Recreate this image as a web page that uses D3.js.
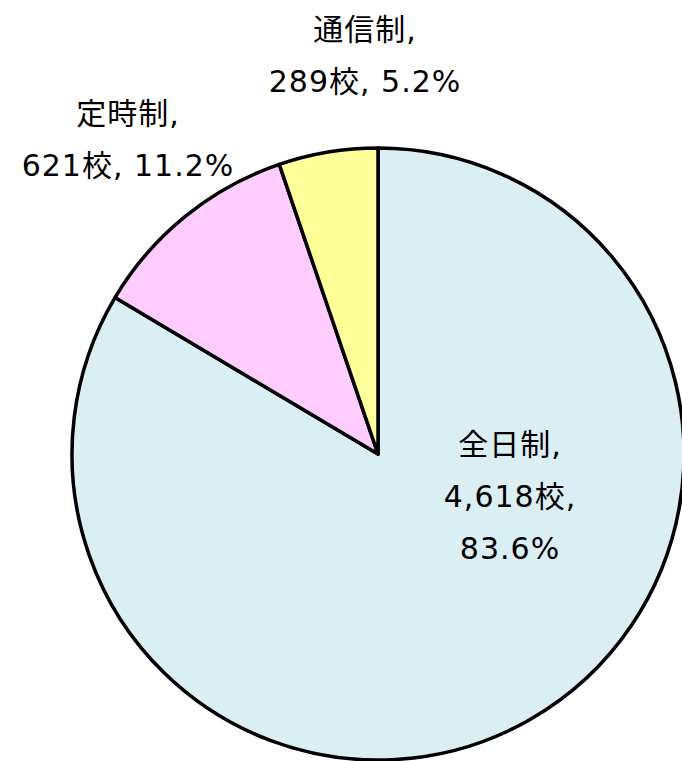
<!DOCTYPE html>
<html>
<head>
<meta charset="utf-8">
<script src="https://cdn.jsdelivr.net/npm/d3@7"></script>
<style>
  html, body { margin: 0; padding: 0; background: #fff; }
  svg text { font-family: "DejaVu Sans", "Noto Sans CJK JP", sans-serif; font-size: 30px; letter-spacing: 1px; fill: #000; }
</style>
</head>
<body>
<svg id="chart"></svg>
<script>
// data
const categories = ["全日制", "定時制", "通信制"];
const schools = [4618, 621, 289];
const percents = ["83.6%", "11.2%", "5.2%"];
const colors = ["#DAEEF3", "#FFCCFF", "#FFFF99"];

const width = 682, height = 761;
const cx = 378, cy = 454, radius = 306;

const svg = d3.select("#chart")
    .attr("width", width)
    .attr("height", height);

const pie = d3.pie().sort(null).value(d => d)
const arcs = pie(schools)

const arc = d3.arc().innerRadius(0).outerRadius(radius)

svg.append("g")
    .attr("transform", `translate(${cx},${cy})`)
    .selectAll("path")
    .data(arcs)
    .join("path")
    .attr("fill", (d, i) => colors[i])
    .attr("stroke", "#000")
    .attr("stroke-width", 3.5)
    .attr("stroke-linejoin", "round")
    .attr("d", arc);

// label placement (manual, like the original)
const fmt = d3.format(",")
const labelLines = [
    [categories[0] + ",", fmt(schools[0]) + "校,", percents[0]],
    [categories[1] + ",", fmt(schools[1]) + "校, " + percents[1]],
    [categories[2] + ",", fmt(schools[2]) + "校, " + percents[2]]
];
const labelPos = [[510, 455], [128, 124], [365, 40]];
const lineStep = 52;

labelLines.forEach((lines, i) => {
    const t = svg.append("text")
        .attr("text-anchor", "middle")
    lines.forEach((s, j) => {
        t.append("tspan")
            .attr("x", labelPos[i][0])
            .attr("y", labelPos[i][1] + j * lineStep)
            .text(s)
    })
})
</script>
</body>
</html>
